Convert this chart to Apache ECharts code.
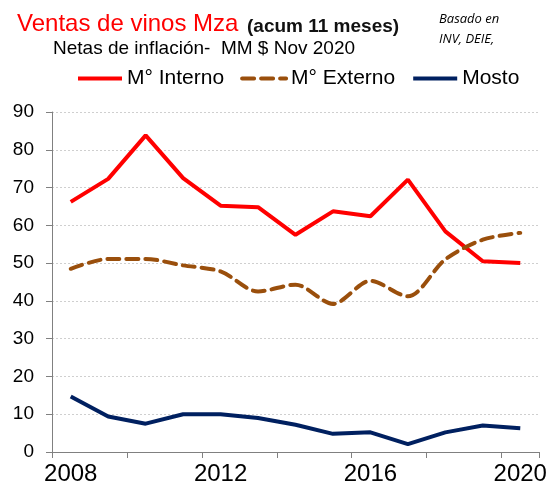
<!DOCTYPE html>
<html>
<head>
<meta charset="utf-8">
<script src="https://cdn.jsdelivr.net/npm/echarts@6/dist/echarts.min.js"></script>
<style>
  html, body { margin: 0; padding: 0; background: #fff; }
  #chart { width: 556px; height: 490px; }
</style>
</head>
<body>
<div id="chart"></div>
<script>
// Annual sales of Mendoza wine, real terms (millions of pesos, Nov 2020)
const years = ['2008','2009','2010','2011','2012','2013','2014','2015','2016','2017','2018','2019','2020'];
const mercadoInterno = [66.2, 72.3, 83.8, 72.5, 65.2, 64.8, 57.5, 63.7, 62.4, 72.1, 58.4, 50.5, 50.0];
const mercadoExterno = [48.5, 51.1, 51.1, 49.4, 47.8, 42.5, 44.3, 39.2, 45.3, 41.2, 51.0, 56.2, 58.0];
const mosto = [14.7, 9.4, 7.5, 10.0, 10.0, 9.0, 7.2, 4.8, 5.2, 2.1, 5.2, 7.0, 6.3];
const yTicks = [0, 10, 20, 30, 40, 50, 60, 70, 80, 90];

const FONT = '"Liberation Sans", Arial, sans-serif';
const chart = echarts.init(document.getElementById('chart'), null, { renderer: 'canvas' });

chart.setOption({
  backgroundColor: '#ffffff',
  animation: false,
  title: [
    { text: 'Ventas de vinos Mza', left: 12, top: 7,
      textStyle: { color: '#ff0000', fontSize: 24, fontWeight: 'normal', fontFamily: FONT } },
    { text: '(acum 11 meses)', left: 242, top: 12,
      textStyle: { color: '#111', fontSize: 19, fontWeight: 'bold', fontFamily: FONT } },
    { text: 'Netas de inflación-  MM $ Nov 2020', left: 48, top: 34,
      textStyle: { color: '#000', fontSize: 19, fontWeight: 'normal', fontFamily: FONT } },
    { text: 'Basado en\nINV, DEIE,', left: 434, top: 4,
      textStyle: { color: '#000', fontSize: 13, fontStyle: 'italic', fontWeight: 'normal',
                   fontFamily: '"Open Sans", sans-serif', lineHeight: 20 } }
  ],
  legend: {
    left: 76, top: 68, padding: 0,
    itemWidth: 44, itemHeight: 14, itemGap: 16,
    itemStyle: { opacity: 0 },
    lineStyle: { width: 4 },
    textStyle: { fontSize: 21, color: '#000', fontFamily: FONT },
    data: ['M° Interno', 'M° Externo', 'Mosto']
  },
  grid: { left: 52, right: 17, top: 112, bottom: 38, containLabel: false },
  xAxis: {
    type: 'category',
    data: years,
    boundaryGap: true,
    axisLine: { lineStyle: { color: '#808080', width: 1 } },
    axisTick: { show: true, interval: 1, length: 6, lineStyle: { color: '#808080' } },
    axisLabel: { interval: 3, fontSize: 24, color: '#000', fontFamily: FONT, margin: 10 },
    splitLine: { show: false }
  },
  yAxis: {
    type: 'value',
    min: yTicks[0], max: yTicks[yTicks.length - 1], interval: 10,
    axisLine: { show: true, lineStyle: { color: '#808080', width: 1 } },
    axisTick: { show: true, length: 6, lineStyle: { color: '#808080' } },
    axisLabel: { fontSize: 19, color: '#000', fontFamily: FONT, margin: 18 },
    splitLine: { show: true, lineStyle: { color: '#cfcfcf', type: [2, 2], width: 1 } }
  },
  series: [
    { name: 'M° Interno', type: 'line', data: mercadoInterno, symbol: 'none',
      itemStyle: { color: '#ff0000' },
      lineStyle: { color: '#ff0000', width: 4 } },
    { name: 'M° Externo', type: 'line', data: mercadoExterno, symbol: 'none', smooth: 0.3,
      itemStyle: { color: '#9a4f0c' },
      lineStyle: { color: '#9a4f0c', width: 4, type: [12, 7], cap: 'round' } },
    { name: 'Mosto', type: 'line', data: mosto, symbol: 'none',
      itemStyle: { color: '#002060' },
      lineStyle: { color: '#002060', width: 4 } }
  ]
});
</script>
</body>
</html>
